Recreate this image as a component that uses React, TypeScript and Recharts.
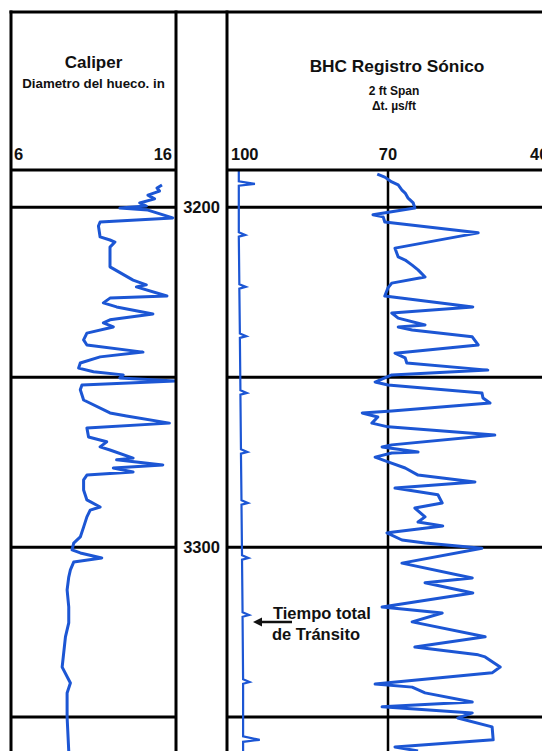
import { ComposedChart, Line, XAxis, YAxis, ReferenceLine } from 'recharts';

const FONT = "'Liberation Sans', Arial, sans-serif";
const BLUE = '#1c56d4';

const DEPTH_DOMAIN = [3189, 3360];
const GRID_DEPTHS = [3200, 3250, 3300, 3350];
const DEPTH_LABELS = [3200, 3300];
const CALIPER_SCALE = [6, 16];
const SONIC_SCALE = [100, 70, 40];

// Caliper, in
const caliperDepth = [
  3193.4, 3194.3, 3195.2, 3196.4, 3197.5, 3198.7, 3199.6, 3200.2, 3200.8, 3203.1,
  3204.3, 3205.5, 3208.7, 3209.6, 3210.2, 3211.7, 3217.5, 3221.4, 3222.8, 3223.4,
  3226.1, 3226.7, 3228.1, 3229.3, 3231.4, 3233.1, 3234.0, 3235.2, 3237.0, 3239.0,
  3240.5, 3242.6, 3244.0, 3245.8, 3247.3, 3248.4, 3249.3, 3250.2, 3251.1, 3252.3,
  3253.7, 3256.7, 3260.5, 3261.4, 3263.5, 3264.9, 3267.6, 3269.0, 3270.5, 3271.4,
  3273.8, 3274.3, 3275.8, 3276.7, 3277.9, 3278.8, 3280.2, 3283.2, 3286.1, 3288.2,
  3289.1, 3291.1, 3294.1, 3297.0, 3298.8, 3300.8, 3301.7, 3303.2, 3304.4, 3306.7,
  3308.8, 3312.6, 3317.6, 3322.3, 3326.4, 3335.3, 3340.0, 3342.9, 3350.0, 3360.0,
];
const caliperValue = [
  15.15, 14.85, 15.0, 14.3, 14.7, 13.8, 14.2, 12.6, 14.3, 15.8,
  11.4, 11.3, 11.4, 12.0, 12.3, 12.0, 12.0, 13.4, 14.2, 13.6,
  15.45, 12.0, 11.6, 12.4, 14.6, 12.0, 11.6, 12.2, 10.6, 10.4,
  10.6, 14.0, 11.4, 10.2, 10.1, 11.0, 12.8, 12.6, 15.95, 10.3,
  10.2, 10.4, 12.0, 13.0, 15.6, 10.6, 10.7, 11.8, 11.4, 12.0,
  13.4, 12.4, 15.2, 12.2, 13.4, 10.6, 10.4, 10.4, 10.6, 11.4,
  10.8, 10.6, 10.4, 10.2, 9.8, 9.7, 10.2, 11.5, 9.8, 9.6,
  9.5, 9.4, 9.5, 9.5, 9.3, 9.1, 9.6, 9.4, 9.4, 9.5,
];

// Sonic delta-t, us/ft
const sonicDepth = [
  3190.2, 3191.1, 3192.5, 3193.4, 3194.9, 3195.8, 3197.2, 3198.7, 3200.2, 3202.2,
  3202.8, 3204.3, 3207.5, 3212.0, 3214.6, 3215.5, 3217.0, 3218.4, 3220.5, 3222.3,
  3223.7, 3226.1, 3229.3, 3231.1, 3232.6, 3234.6, 3235.2, 3236.1, 3238.1, 3240.5,
  3242.9, 3244.3, 3245.8, 3247.9, 3249.3, 3251.4, 3252.3, 3254.6, 3256.1, 3257.6,
  3259.9, 3260.5, 3261.7, 3263.5, 3264.6, 3267.0, 3269.9, 3270.5, 3272.0, 3272.3,
  3273.5, 3274.9, 3276.7, 3278.8, 3280.8, 3282.6, 3284.6, 3287.0, 3288.5, 3291.1,
  3292.6, 3293.8, 3295.6, 3295.8, 3297.9, 3298.8, 3300.3, 3304.7, 3309.1, 3310.5,
  3313.5, 3317.6, 3319.4, 3322.0, 3326.4, 3329.4, 3331.7, 3332.3, 3335.3, 3337.0,
  3340.3, 3341.2, 3342.9, 3345.6, 3347.0, 3348.8, 3350.3, 3352.9, 3356.7, 3358.8,
  3360.0,
];
const sonicValue = [
  72.0, 70.6, 69.3, 68.1, 67.4, 66.8, 66.3, 65.3, 65.0, 72.8,
  70.9, 70.6, 53.2, 68.7, 68.1, 66.8, 65.5, 64.4, 63.1, 69.3,
  70.0, 70.6, 54.2, 69.3, 68.1, 63.1, 68.1, 65.5, 54.3, 53.2,
  68.7, 66.8, 66.5, 51.4, 69.3, 72.4, 70.0, 52.5, 52.3, 51.0,
  69.3, 74.8, 71.9, 73.0, 70.0, 50.1, 69.3, 71.1, 64.4, 69.3,
  72.4, 70.0, 66.8, 64.4, 53.8, 68.7, 60.7, 59.9, 65.0, 63.1,
  64.4, 59.8, 69.3, 70.2, 67.4, 63.1, 52.5, 67.4, 54.3, 63.1,
  54.2, 71.1, 59.9, 65.5, 51.9, 65.0, 53.2, 51.9, 49.1, 50.6,
  72.4, 65.5, 63.1, 54.3, 71.1, 54.3, 57.0, 50.6, 50.4, 68.7,
  64.4,
];

// Tiempo total de transito (integrator trace with pips)
const transitDepth = [
  3189.2, 3192.3, 3193.1, 3193.6, 3207.3, 3208.1, 3208.6, 3222.6, 3223.4, 3223.9,
  3237.1, 3237.9, 3238.4, 3253.8, 3254.6, 3255.1, 3271.2, 3272.0, 3272.5, 3286.2,
  3287.0, 3287.5, 3302.4, 3303.2, 3303.7, 3319.2, 3320.0, 3320.5, 3338.9, 3339.7,
  3340.2, 3355.7, 3356.7, 3357.3, 3360.0,
];
const transitValue = [
  97.8, 97.8, 94.8, 97.8, 97.8, 96.6, 97.8, 97.7, 96.5, 97.7,
  97.6, 96.4, 97.6, 97.5, 96.3, 97.5, 97.4, 96.2, 97.4, 97.3,
  96.1, 97.3, 97.2, 96.0, 97.2, 97.1, 95.9, 97.1, 97.0, 95.8,
  97.0, 97.0, 93.9, 97.0, 97.0,
];

const caliperData = caliperDepth.map((depth, i) => ({ depth, cal: caliperValue[i] }));
const sonicData = sonicDepth.map((depth, i) => ({ depth, dt: sonicValue[i] }));
const transitData = transitDepth.map((depth, i) => ({ depth, ttt: transitValue[i] }));

const DepthTick = ({ y, payload }: any) => (
  <text x={25.5} y={y} dy={6} textAnchor="middle" fontSize={16.5} fontWeight="bold" fill="#111" fontFamily={FONT}>
    {payload.value}
  </text>
);

const txt = (x: number, y: number, s: string, size: number, anchor: 'start' | 'middle' | 'end' = 'middle') => (
  <text x={x} y={y} fontSize={size} fontWeight="bold" textAnchor={anchor} fill="#111" fontFamily={FONT}>
    {s}
  </text>
);

export default function App() {
  return (
    <div style={{ position: 'absolute', left: 0, top: 0, width: 542, height: 751, overflow: 'hidden', background: '#fff' }}>
      {/* Caliper track */}
      <div style={{ position: 'absolute', left: 11, top: 170 }}>
        <ComposedChart width={165} height={581} data={caliperData} layout="vertical" margin={{ top: 0, right: 0, bottom: 0, left: 0 }}>
          <XAxis type="number" domain={CALIPER_SCALE} hide />
          <YAxis type="number" dataKey="depth" domain={DEPTH_DOMAIN} hide />
          {GRID_DEPTHS.map((d) => (
            <ReferenceLine key={d} y={d} stroke="#000" strokeWidth={3} />
          ))}
          <Line dataKey="cal" type="linear" stroke={BLUE} strokeWidth={3} strokeLinejoin="round" dot={false} isAnimationActive={false} />
        </ComposedChart>
      </div>

      {/* Depth column + sonic track */}
      <div style={{ position: 'absolute', left: 176, top: 170 }}>
        <ComposedChart width={373} height={581} data={sonicData} layout="vertical" margin={{ top: 0, right: 0, bottom: 0, left: 0 }}>
          <XAxis type="number" domain={[SONIC_SCALE[2], SONIC_SCALE[0]]} reversed hide />
          <YAxis
            type="number"
            dataKey="depth"
            domain={DEPTH_DOMAIN}
            ticks={DEPTH_LABELS}
            width={51}
            axisLine={false}
            tickLine={false}
            tick={<DepthTick />}
            interval={0}
          />
          {GRID_DEPTHS.map((d) => (
            <ReferenceLine key={d} y={d} stroke="#000" strokeWidth={3} />
          ))}
          <ReferenceLine x={SONIC_SCALE[1]} stroke="#000" strokeWidth={2.5} />
          <Line data={transitData} dataKey="ttt" type="linear" stroke={BLUE} strokeWidth={2.2} dot={false} isAnimationActive={false} />
          <Line dataKey="dt" type="linear" stroke={BLUE} strokeWidth={3} strokeLinejoin="round" dot={false} isAnimationActive={false} />
        </ComposedChart>
      </div>

      {/* Frame and header */}
      <svg width={542} height={751} style={{ position: 'absolute', left: 0, top: 0, pointerEvents: 'none' }}>
        <g stroke="#000" strokeWidth={3}>
          <line x1={9.5} x2={542} y1={12} y2={12} />
          <line x1={11} x2={11} y1={10.5} y2={751} />
          <line x1={176} x2={176} y1={10.5} y2={751} />
          <line x1={227} x2={227} y1={10.5} y2={751} />
          <line x1={11} x2={176} y1={170} y2={170} />
          <line x1={227} x2={542} y1={170} y2={170} />
        </g>
        {txt(93.5, 68, 'Caliper', 17)}
        {txt(93.5, 88, 'Diametro del hueco. in', 13.3)}
        {txt(397, 72, 'BHC Registro Sónico', 17.3)}
        {txt(394, 95, '2 ft Span', 12)}
        {txt(394, 110, 'Δt.  µs/ft', 12)}
        {txt(14, 160, String(CALIPER_SCALE[0]), 16.5, 'start')}
        {txt(172, 160, String(CALIPER_SCALE[1]), 16.5, 'end')}
        {txt(231, 160, String(SONIC_SCALE[0]), 16.5, 'start')}
        {txt(388, 160, String(SONIC_SCALE[1]), 16.5, 'middle')}
        {txt(530, 160, String(SONIC_SCALE[2]), 16.5, 'start')}

        {/* annotation */}
        {txt(273, 619, 'Tiempo total', 16.5, 'start')}
        {txt(272, 640, 'de Tránsito', 16.5, 'start')}
        <line x1={292} x2={260} y1={622} y2={622} stroke="#111" strokeWidth={2.5} />
        <polygon points="253,622 262,617.5 262,626.5" fill="#111" />
      </svg>
    </div>
  );
}
